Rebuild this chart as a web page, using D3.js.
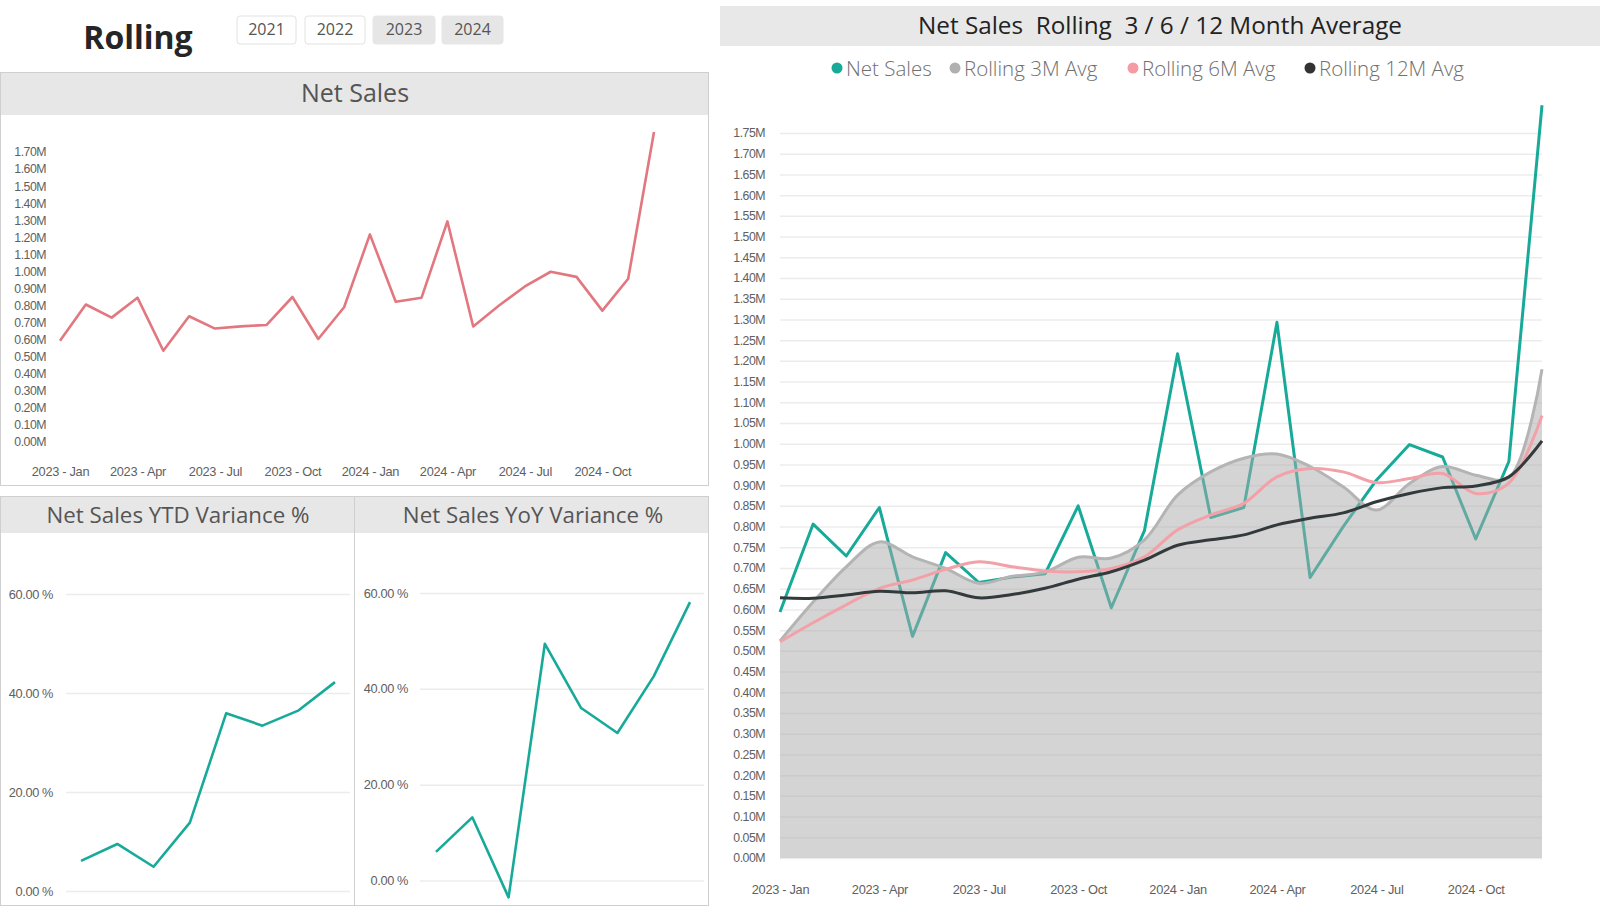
<!DOCTYPE html>
<html><head><meta charset="utf-8">
<script src="https://cdn.jsdelivr.net/npm/d3@7"></script>
<style>
body{margin:0;background:#fff;}
svg{display:block;font-family:"Open Sans","Noto Sans",sans-serif;}
.tick text{fill:#606060;font-weight:300;}
</style></head>
<body><svg id="c" width="1600" height="912"></svg>
<script>
// ---------- data ----------
const months = ["2023 - Jan","2023 - Feb","2023 - Mar","2023 - Apr","2023 - May","2023 - Jun","2023 - Jul","2023 - Aug","2023 - Sep","2023 - Oct","2023 - Nov","2023 - Dec",
                "2024 - Jan","2024 - Feb","2024 - Mar","2024 - Apr","2024 - May","2024 - Jun","2024 - Jul","2024 - Aug","2024 - Sep","2024 - Oct","2024 - Nov","2024 - Dec"];
const netSales   = [0.594,0.806,0.729,0.846,0.535,0.737,0.665,0.678,0.686,0.850,0.604,0.790,1.217,0.822,0.846,1.293,0.677,0.800,0.912,0.998,0.968,0.770,0.957,1.817];
const rolling3M  = [0.524,0.618,0.703,0.763,0.727,0.699,0.663,0.680,0.690,0.726,0.724,0.768,0.876,0.932,0.965,0.975,0.945,0.896,0.840,0.904,0.945,0.924,0.918,1.180];
const rolling6M  = [0.522,0.568,0.611,0.651,0.671,0.697,0.715,0.703,0.693,0.691,0.699,0.727,0.792,0.828,0.856,0.920,0.940,0.932,0.906,0.916,0.928,0.880,0.905,1.068];
const rolling12M = [0.628,0.627,0.635,0.644,0.640,0.645,0.628,0.636,0.651,0.673,0.691,0.719,0.755,0.768,0.780,0.804,0.820,0.833,0.860,0.880,0.894,0.898,0.920,1.007];
const varCats = ["2023 Q1","2023 Q2","2023 Q3","2023 Q4","2024 Q1","2024 Q2","2024 Q3","2024 Q4"];
const ytdVar = [6.1,9.5,4.9,13.8,35.9,33.4,36.5,42.2];
const yoyVar = [6.0,13.2,-3.5,49.4,36.0,30.8,42.6,58.1];
const years = ["2021","2022","2023","2024"];
const selectedYears = ["2023","2024"];
const xTickLabels = months.filter((m,i)=>i%3===0);
const leftTicks = d3.range(0,18).map(i=>i*0.1);
const rightTicks = d3.range(0,36).map(i=>i*0.05);
const pctTicks = [0,20,40,60];
const legendItems = ["Net Sales","Rolling 3M Avg","Rolling 6M Avg","Rolling 12M Avg"];

const C = {teal:"#17aa99", gray:"#b4b4b4", pink:"#f3a1a8", black:"#333a3c", salmon:"#e2777f"};
const svg = d3.select("#c");
const fmtM = v => d3.format(".2f")(v)+"M";
const fmtP = v => d3.format(".2f")(v)+" %";

// ---------- header ----------
svg.append("text").attr("x",138).attr("y",49).attr("text-anchor","middle")
  .attr("font-size",32).attr("font-weight",700).attr("fill","#252525").text("Rolling");
const btnX = [237,305,373,442], btnW=[59,60,62,61];
years.forEach((y,i)=>{
  const sel = selectedYears.includes(y);
  svg.append("rect").attr("x",btnX[i]).attr("y",16).attr("width",btnW[i]).attr("height",28).attr("rx",3)
    .attr("fill", sel?"#e6e6e6":"#fff").attr("stroke", sel?"#e6e6e6":"#e2e2e2");
  svg.append("text").attr("x",btnX[i]+btnW[i]/2).attr("y",35).attr("text-anchor","middle")
    .attr("font-size",16).attr("fill","#555").text(y);
});

// ---------- panels ----------
function panel(x,y,w,h,hh,title,tx,fs){
  svg.append("rect").attr("x",x+0.5).attr("y",y+0.5).attr("width",w-1).attr("height",h-1).attr("fill","#fff").attr("stroke","#cfcfcf");
  svg.append("rect").attr("x",x+1).attr("y",y+1).attr("width",w-2).attr("height",hh).attr("fill","#e7e7e7");
  svg.append("text").attr("x",tx).attr("y",y+hh/2+9).attr("text-anchor","middle").attr("font-size",fs).attr("fill","#555").text(title);
}
panel(0,72,709,414,42,"Net Sales",355,25);
panel(0,496,355,410,36,"Net Sales YTD Variance %",178,22.3);
panel(354,496,355,410,36,"Net Sales YoY Variance %",533,22.3);

// right header
svg.append("rect").attr("x",720).attr("y",6).attr("width",880).attr("height",40).attr("fill","#e8e8e8");
svg.append("text").attr("x",1160).attr("y",34).attr("text-anchor","middle").attr("font-size",24.3).attr("fill","#222")
  .attr("xml:space","preserve").text("Net Sales  Rolling  3 / 6 / 12 Month Average");

// legend
const legX=[837,955,1133,1310], legC=[C.teal,"#b0b0b0","#f59ba4","#333"];
legendItems.forEach((t,i)=>{
  svg.append("circle").attr("cx",legX[i]).attr("cy",68).attr("r",5.5).attr("fill",legC[i]);
  svg.append("text").attr("x",legX[i]+9).attr("y",75.5).attr("font-size",20.5).attr("font-weight",300).attr("fill","#707070").text(t);
});

// ---------- left Net Sales chart ----------
{
  const x = d3.scalePoint().domain(months).range([60,654]);
  const y = d3.scaleLinear().domain([0,1.7]).range([442,152]);
  const gy = svg.append("g").attr("transform","translate(46,0)")
    .call(d3.axisLeft(y).tickValues(leftTicks).tickFormat(fmtM).tickSize(0).tickPadding(0));
  gy.select(".domain").remove();
  gy.selectAll("text").attr("font-size",12.3).attr("letter-spacing",-0.5);
  const gx = svg.append("g").attr("transform","translate(0,463)")
    .call(d3.axisBottom(x).tickValues(xTickLabels).tickSize(0).tickPadding(4));
  gx.select(".domain").remove();
  gx.selectAll("text").attr("font-size",12.8).attr("letter-spacing",-0.3);
  svg.append("path").datum(netSales).attr("fill","none").attr("stroke",C.salmon).attr("stroke-width",2.6)
    .attr("stroke-linejoin","round")
    .attr("d", d3.line().x((d,i)=>x(months[i])).y(d=>y(d)));
}

// ---------- variance charts ----------
function varChart(data, x0, x1, gl, gr, y0, y60, labRight){
  const x = d3.scalePoint().domain(varCats).range([x0,x1]);
  const y = d3.scaleLinear().domain([0,60]).range([y0,y60]);
  const g = svg.append("g").attr("transform",`translate(${gl},0)`)
    .call(d3.axisLeft(y).tickValues(pctTicks).tickFormat(fmtP).tickSize(-(gr-gl)).tickPadding(gl-labRight));
  g.select(".domain").remove();
  g.selectAll("line").attr("stroke","#ececec").attr("stroke-width",1.5);
  g.selectAll("text").attr("font-size",12.8).attr("fill","#666").attr("letter-spacing",-0.4);
  svg.append("path").datum(data).attr("fill","none").attr("stroke",C.teal).attr("stroke-width",2.6)
    .attr("stroke-linejoin","round")
    .attr("d", d3.line().x((d,i)=>x(varCats[i])).y(d=>y(d)));
}
varChart(ytdVar, 81, 335, 66, 350, 891, 594, 53);
varChart(yoyVar, 436, 690, 420, 704, 880.6, 593, 408);

// ---------- right rolling chart ----------
{
  const x = d3.scalePoint().domain(months).range([780,1542]);
  const y = d3.scaleLinear().domain([0,1.75]).range([858,133]);
  const gy = svg.append("g").attr("transform","translate(780,0)")
    .call(d3.axisLeft(y).tickValues(rightTicks).tickFormat(fmtM).tickSize(-(1542-780)).tickPadding(15));
  gy.select(".domain").remove();
  gy.selectAll("line").attr("stroke","#ececec").attr("stroke-width",1.5);
  gy.selectAll("text").attr("font-size",12.3).attr("letter-spacing",-0.5);
  const gx = svg.append("g").attr("transform","translate(0,881)")
    .call(d3.axisBottom(x).tickValues(xTickLabels).tickSize(0).tickPadding(4));
  gx.select(".domain").remove();
  gx.selectAll("text").attr("font-size",12.8).attr("letter-spacing",-0.3);

  const xi = (d,i)=>x(months[i]);
  const curve = d3.curveCatmullRom.alpha(0.5);
  // net sales (under the semi-transparent area)
  svg.append("path").datum(netSales).attr("fill","none").attr("stroke",C.teal).attr("stroke-width",3)
    .attr("stroke-linejoin","round").attr("d", d3.line().x(xi).y(d=>y(d)));
  // 3M area
  svg.append("path").datum(rolling3M).attr("fill","#a9a9a9").attr("fill-opacity",0.5)
    .attr("d", d3.area().x(xi).y0(y(0)).y1(d=>y(d)).curve(curve));
  svg.append("path").datum(rolling3M).attr("fill","none").attr("stroke",C.gray).attr("stroke-width",3)
    .attr("d", d3.line().x(xi).y(d=>y(d)).curve(curve));
  svg.append("path").datum(rolling6M).attr("fill","none").attr("stroke",C.pink).attr("stroke-width",3)
    .attr("d", d3.line().x(xi).y(d=>y(d)).curve(curve));
  svg.append("path").datum(rolling12M).attr("fill","none").attr("stroke",C.black).attr("stroke-width",3)
    .attr("d", d3.line().x(xi).y(d=>y(d)).curve(curve));
}
</script></body></html>
